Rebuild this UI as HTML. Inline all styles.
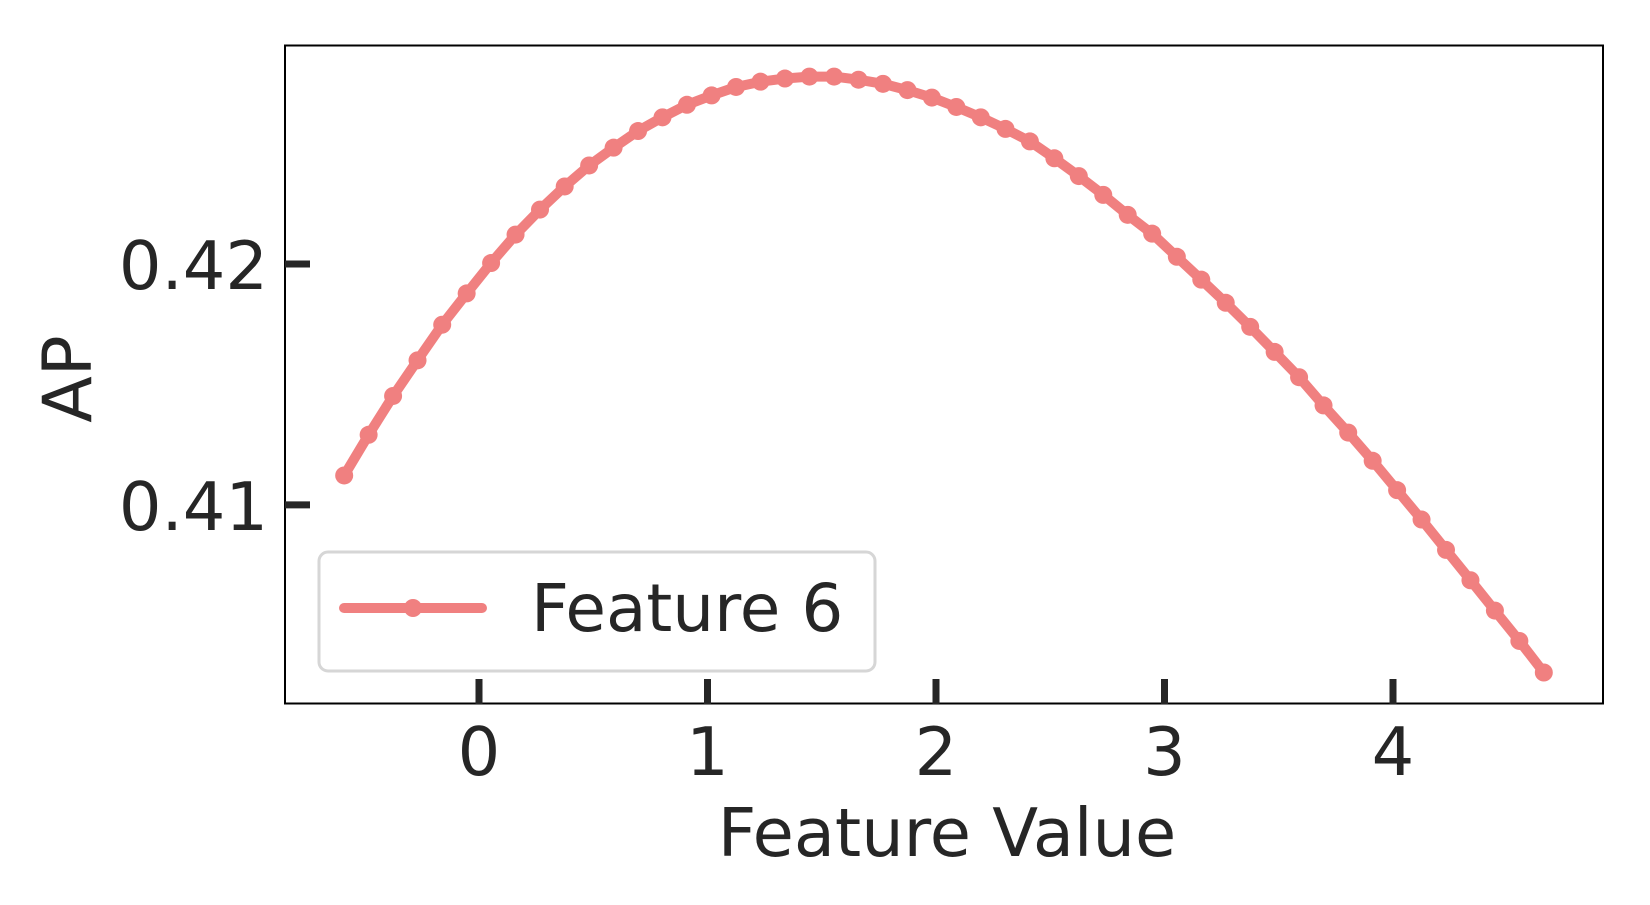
<!DOCTYPE html>
<html><head><meta charset="utf-8"><style>
body{margin:0;background:#fff;}
svg text{font-family:"DejaVu Sans","Liberation Sans",sans-serif;fill:#262626;}
</style></head><body>
<svg width="1650" height="900" viewBox="0 0 1650 900" id="chart">
<rect x="0" y="0" width="1650" height="900" fill="#fff"/>
<g id="plot"></g>
<rect x="285" y="45.5" width="1318" height="658" fill="none" stroke="#000" stroke-width="2" id="frame"/>
<g id="axes"></g>
<text x="947" y="856" font-size="67" text-anchor="middle">Feature Value</text>
<text transform="translate(91,379) rotate(-90)" font-size="68" text-anchor="middle">AP</text>
<g>
<rect x="319" y="552" width="556" height="119" rx="9" fill="#fff" stroke="#d6d6d6" stroke-width="3"/>
<line x1="344" y1="608" x2="482" y2="608" stroke="#f08080" stroke-width="10" stroke-linecap="round"/>
<circle cx="413" cy="608" r="9" fill="#f08080"/>
<text x="531" y="631" font-size="66">Feature 6</text>
</g>
</svg>
<script>
const xValues=[-0.59,-0.483,-0.376,-0.269,-0.161,-0.054,0.053,0.160,0.267,0.375,0.482,0.589,0.696,0.803,0.910,1.018,1.125,1.232,1.339,1.446,1.554,1.661,1.768,1.875,1.982,2.089,2.196,2.304,2.411,2.518,2.625,2.732,2.839,2.946,3.054,3.161,3.268,3.375,3.482,3.589,3.696,3.804,3.911,4.018,4.125,4.232,4.339,4.446,4.553,4.66];
const apValues=[0.41122,0.41291,0.41452,0.41600,0.41748,0.41878,0.42004,0.42122,0.42226,0.42322,0.42409,0.42483,0.42552,0.42609,0.42661,0.42700,0.42735,0.42757,0.42770,0.42778,0.42778,0.42765,0.42748,0.42722,0.42691,0.42652,0.42609,0.42561,0.42509,0.42439,0.42365,0.42287,0.42204,0.42126,0.42030,0.41935,0.41839,0.41739,0.41635,0.41530,0.41413,0.41300,0.41183,0.41061,0.40939,0.40813,0.40687,0.40561,0.40435,0.40304];
const xTicks=[0,1,2,3,4];
const yTicks=[0.41,0.42];
const yTickLabels=["0.41","0.42"];
const NS="http://www.w3.org/2000/svg";
function sx(v){return 479+228.5*v;}
function sy(v){return 264-(v-0.42)*24086;}
const plot=document.getElementById('plot');
const axes=document.getElementById('axes');
const pts=xValues.map((x,i)=>sx(x).toFixed(1)+','+sy(apValues[i]).toFixed(1)).join(' ');
const pl=document.createElementNS(NS,'polyline');
pl.setAttribute('points',pts);
pl.setAttribute('fill','none');pl.setAttribute('stroke','#f08080');pl.setAttribute('stroke-width','10');pl.setAttribute('stroke-linejoin','round');pl.setAttribute('stroke-linecap','round');


plot.appendChild(pl);
xValues.forEach((x,i)=>{
 const c=document.createElementNS(NS,'circle');
 c.setAttribute('cx',sx(x));c.setAttribute('cy',sy(apValues[i]));c.setAttribute('r','9');c.setAttribute('fill','#f08080');
 
 
 plot.appendChild(c);
});
xTicks.forEach(t=>{
 const l=document.createElementNS(NS,'line');
 l.setAttribute('x1',sx(t));l.setAttribute('x2',sx(t));l.setAttribute('y1','679');l.setAttribute('y2','704');
 l.setAttribute('stroke','#262626');l.setAttribute('stroke-width','7');
 
 
 axes.appendChild(l);
 const tx=document.createElementNS(NS,'text');
 tx.setAttribute('x',sx(t));tx.setAttribute('y','775');tx.setAttribute('font-size','67');tx.setAttribute('text-anchor','middle');
 tx.textContent=String(t);
 
 
 axes.appendChild(tx);
});
yTicks.forEach((t,i)=>{
 const l=document.createElementNS(NS,'line');
 l.setAttribute('x1','285');l.setAttribute('x2','310');l.setAttribute('y1',sy(t));l.setAttribute('y2',sy(t));
 l.setAttribute('stroke','#262626');l.setAttribute('stroke-width','7');
 
 
 axes.appendChild(l);
 const tx=document.createElementNS(NS,'text');
 tx.setAttribute('x','268');tx.setAttribute('y',sy(t)+25);tx.setAttribute('font-size','67');tx.setAttribute('text-anchor','end');
 tx.textContent=yTickLabels[i];
 
 
 axes.appendChild(tx);
});
</script>
</body></html>
